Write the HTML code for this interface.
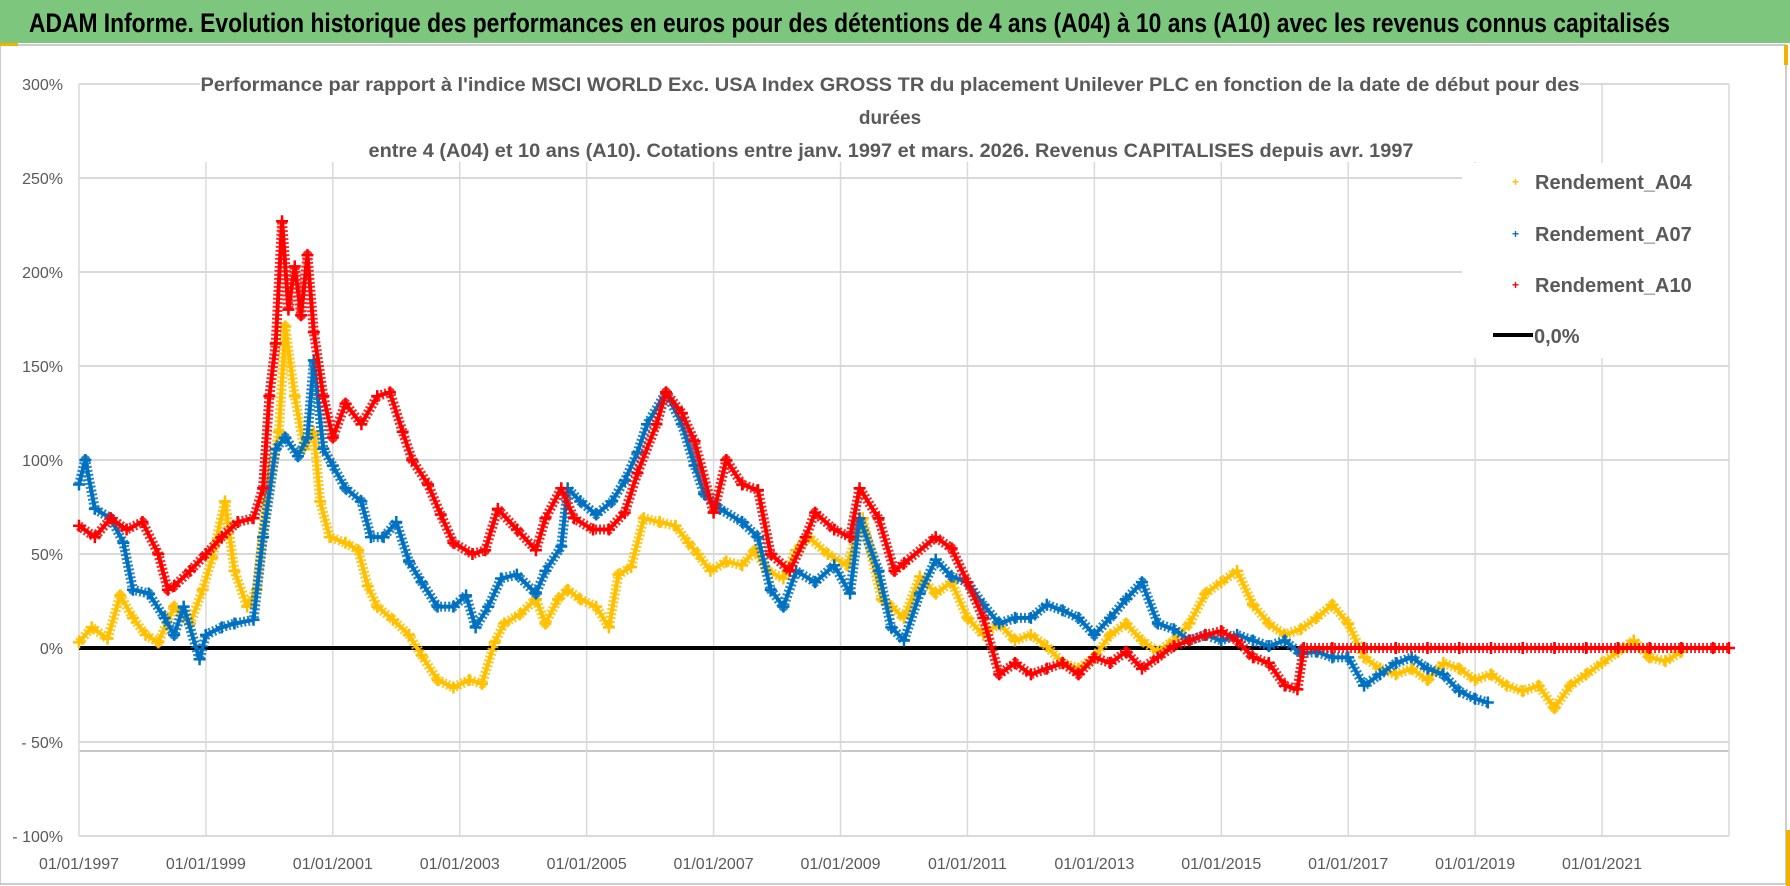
<!DOCTYPE html>
<html><head><meta charset="utf-8"><style>
html,body{margin:0;padding:0;background:#fff;}
svg{display:block;font-family:"Liberation Sans",sans-serif;}
</style></head><body>
<svg id="chart" width="1790" height="886" viewBox="0 0 1790 886">
<rect x="0" y="0" width="1790" height="886" fill="#fff"/>
<rect x="0" y="0" width="1790" height="43" fill="#7DC67D"/>
<text x="29" y="32" font-size="27" font-weight="bold" fill="#000" textLength="1641" lengthAdjust="spacingAndGlyphs">ADAM Informe. Evolution historique des performances en euros pour des détentions de 4 ans (A04) à 10 ans (A10) avec les revenus connus capitalisés</text>
<rect x="0" y="45" width="1786" height="839" fill="none" stroke="#bbb" stroke-width="1.5"/>
<rect x="0" y="43" width="18" height="3" fill="#f0b400"/>
<rect x="1784" y="45" width="4" height="20" fill="#f0b400"/>
<rect x="1786" y="830" width="4" height="56" fill="#f0b400"/>
<g id="grid"></g>
<g id="series"></g>
<rect x="200" y="68" width="1380" height="94" fill="#fff"/>
<g fill="#595959" font-weight="bold" font-size="19" text-anchor="middle">
<text x="890" y="91" textLength="1379" lengthAdjust="spacingAndGlyphs">Performance par rapport à l'indice MSCI WORLD Exc. USA Index GROSS TR  du placement Unilever PLC en fonction de la date de début pour des</text>
<text x="890" y="124">durées</text>
<text x="891" y="157" textLength="1045" lengthAdjust="spacingAndGlyphs">entre 4 (A04) et 10 ans (A10). Cotations entre janv. 1997 et mars. 2026. Revenus CAPITALISES depuis avr. 1997</text>
</g>
<g id="legend">
<rect x="1462" y="163" width="266" height="195" fill="#fff"/>
<g><text x="1512" y="186" font-size="12" fill="#FFC000" font-weight="bold">+</text><text x="1535" y="189" font-size="20" font-weight="bold" fill="#595959">Rendement_A04</text></g>
<g><text x="1512" y="238" font-size="12" fill="#0070C0" font-weight="bold">+</text><text x="1535" y="241" font-size="20" font-weight="bold" fill="#595959">Rendement_A07</text></g>
<g><text x="1512" y="289" font-size="12" fill="#FF0000" font-weight="bold">+</text><text x="1535" y="292" font-size="20" font-weight="bold" fill="#595959">Rendement_A10</text></g>
<g><line x1="1493" y1="335" x2="1533" y2="335" stroke="#000" stroke-width="4"/><text x="1534" y="343" font-size="20" font-weight="bold" fill="#595959">0,0%</text></g>
</g>
</svg>
<script>
const yTicks=[300,250,200,150,100,50,0,-50,-100];
const yTickLabels=["300%","250%","200%","150%","100%","50%","0%","- 50%","- 100%"];
const xTicks=[1997,1999,2001,2003,2005,2007,2009,2011,2013,2015,2017,2019,2021,2023];
const xTickLabels=["01/01/1997","01/01/1999","01/01/2001","01/01/2003","01/01/2005","01/01/2007","01/01/2009","01/01/2011","01/01/2013","01/01/2015","01/01/2017","01/01/2019","01/01/2021",""];

const a10Years=[1997.0,1997.25,1997.5,1997.75,1998.0,1998.25,1998.4,1998.5,1998.75,1999.0,1999.25,1999.5,1999.75,1999.9,2000.0,2000.1,2000.2,2000.3,2000.4,2000.5,2000.6,2000.7,2000.85,2001.0,2001.2,2001.45,2001.7,2001.9,2002.1,2002.25,2002.5,2002.7,2002.9,2003.2,2003.4,2003.6,2003.9,2004.2,2004.35,2004.6,2004.8,2005.1,2005.35,2005.6,2005.8,2006.1,2006.25,2006.5,2006.7,2007.0,2007.2,2007.45,2007.7,2007.9,2008.2,2008.45,2008.6,2008.9,2009.15,2009.3,2009.6,2009.85,2010.0,2010.5,2010.75,2011.0,2011.25,2011.5,2011.75,2012.0,2012.25,2012.5,2012.75,2013.0,2013.25,2013.5,2013.75,2014.0,2014.25,2014.5,2014.75,2015.0,2015.25,2015.5,2015.75,2016.0,2016.2,2016.3,2016.75,2017.25,2017.75,2018.25,2018.75,2019.25,2019.75,2020.25,2020.75,2021.25,2021.75,2022.25,2022.75,2023.0];
const a10Values=[65,59,69,63,67,50,31,33,41,50,59,67,69,85,134,162,227,180,203,177,209,168,134,112,130,119,134,136,115,100,87,71,56,50,52,74,63,52,69,85,69,63,63,72,93,119,136,125,110,72,100,87,84,50,41,59,72,63,59,85,69,41,45,59,53,35,16,-14,-8,-14,-11,-8,-14,-5,-8,-2,-11,-5,1,4,7,9,4,-5,-8,-20,-22,0,0,0,0,0,0,0,0,0,0,0,0,0,0,0];

const a07Years=[1997.0,1997.1,1997.25,1997.5,1997.7,1997.85,1998.1,1998.35,1998.5,1998.65,1998.9,1999.0,1999.25,1999.45,1999.75,1999.9,2000.1,2000.25,2000.45,2000.6,2000.7,2000.85,2001.0,2001.2,2001.45,2001.6,2001.8,2002.0,2002.2,2002.4,2002.65,2002.9,2003.1,2003.25,2003.45,2003.65,2003.9,2004.2,2004.35,2004.6,2004.7,2004.9,2005.15,2005.4,2005.6,2005.8,2005.95,2006.25,2006.5,2006.7,2006.85,2007.1,2007.45,2007.7,2007.9,2008.1,2008.3,2008.6,2008.9,2009.15,2009.3,2009.6,2009.8,2010.0,2010.25,2010.5,2010.75,2011.0,2011.25,2011.5,2011.75,2012.0,2012.25,2012.5,2012.75,2013.0,2013.25,2013.5,2013.75,2014.0,2014.25,2014.5,2014.75,2015.0,2015.25,2015.5,2015.75,2016.0,2016.25,2016.5,2016.75,2017.0,2017.25,2017.5,2017.75,2018.0,2018.25,2018.5,2018.75,2019.0,2019.2];
const a07Values=[87,100,74,69,56,31,29,16,7,22,-6,7,11,13,15,59,106,112,102,112,153,106,97,85,78,59,59,67,46,35,22,22,28,11,22,37,39,29,41,54,85,78,71,78,89,104,119,136,119,97,82,74,67,59,31,22,41,35,44,29,69,41,11,4,29,47,38,35,23,13,16,16,23,20,16,7,16,26,35,13,10,4,7,4,7,4,1,4,-3,-2,-5,-5,-20,-14,-8,-5,-11,-14,-23,-27,-29];

const a04Years=[1997.0,1997.2,1997.45,1997.65,1997.85,1998.05,1998.25,1998.5,1998.75,1998.95,1999.1,1999.3,1999.45,1999.65,1999.8,1999.95,2000.15,2000.25,2000.4,2000.55,2000.7,2000.8,2000.95,2001.2,2001.4,2001.55,2001.7,2001.95,2002.2,2002.4,2002.65,2002.9,2003.15,2003.35,2003.55,2003.7,2003.95,2004.2,2004.35,2004.55,2004.7,2004.9,2005.15,2005.35,2005.5,2005.7,2005.9,2006.15,2006.4,2006.6,2006.75,2006.95,2007.2,2007.45,2007.65,2007.85,2008.1,2008.3,2008.5,2008.8,2009.1,2009.35,2009.65,2009.8,2010.0,2010.25,2010.5,2010.75,2011.0,2011.25,2011.5,2011.75,2012.0,2012.25,2012.5,2012.75,2013.0,2013.25,2013.5,2013.75,2014.0,2014.25,2014.5,2014.75,2015.0,2015.25,2015.5,2015.75,2016.0,2016.25,2016.5,2016.75,2017.0,2017.25,2017.5,2017.75,2018.0,2018.25,2018.5,2018.75,2019.0,2019.25,2019.5,2019.75,2020.0,2020.25,2020.5,2020.75,2021.0,2021.25,2021.5,2021.75,2022.0,2022.25];
const a04Values=[3,11,5,28,16,7,3,22,13,31,48,78,41,22,31,78,115,171,134,106,115,78,59,56,52,33,22,15,7,-4,-17,-21,-17,-19,3,13,18,26,13,26,31,26,22,11,39,43,69,67,65,56,50,41,46,44,52,41,37,52,59,50,44,69,26,22,16,38,29,35,16,7,13,4,7,1,-8,-11,-5,7,13,4,-2,4,13,29,35,41,23,13,7,10,16,23,13,-5,-11,-14,-11,-17,-8,-11,-17,-14,-20,-23,-20,-32,-20,-14,-8,-2,4,-5,-7,-2];

const NS='http://www.w3.org/2000/svg';
const X0=79,PX_PER_YEAR=63.46,Y0=648,PX_PER_PCT=1.88;
function xScale(yr){return X0+(yr-1997)*PX_PER_YEAR;}
function yScale(v){return Y0-v*PX_PER_PCT;}
function mk(tag,attrs,parent){const e=document.createElementNS(NS,tag);for(const k in attrs)e.setAttribute(k,attrs[k]);parent.appendChild(e);return e;}

const grid=document.getElementById('grid');
yTicks.forEach((t,i)=>{
  const l=mk('line',{x1:X0,x2:xScale(2023),y1:yScale(t),y2:yScale(t),stroke:'#d9d9d9','stroke-width':2},grid);
  
  
  const tx=mk('text',{x:63,y:yScale(t)+6,'text-anchor':'end','font-size':16,fill:'#595959'},grid);
  tx.textContent=yTickLabels[i];
  
  
});
const extra=mk('line',{x1:X0,x2:xScale(2023),y1:751,y2:751,stroke:'#c8c8c8','stroke-width':2},grid);


xTicks.forEach((t,i)=>{
  const l=mk('line',{x1:xScale(t),x2:xScale(t),y1:yScale(300),y2:yScale(-100),stroke:'#d9d9d9','stroke-width':1.5},grid);
  
  
  if(xTickLabels[i]){
    const tx=mk('text',{x:xScale(t),y:869,'text-anchor':'middle','font-size':16,fill:'#595959'},grid);
    tx.textContent=xTickLabels[i];
    
    
  }
});
const zl=mk('line',{x1:X0,x2:xScale(2023),y1:yScale(0),y2:yScale(0),stroke:'#000','stroke-width':4},grid);



const sg=document.getElementById('series');
function drawSeries(years,vals,color,name){
  const g=mk('g',{},sg);
  
  
  const pts=years.map((y,i)=>xScale(y)+','+yScale(vals[i])).join(' ');
  const pl=mk('polyline',{points:pts,fill:'none',stroke:color,'stroke-width':10,'stroke-linejoin':'round','stroke-dasharray':'2 2','stroke-opacity':0.85},g);
  
  
  const pl2=mk('polyline',{points:pts,fill:'none',stroke:color,'stroke-width':4,'stroke-linejoin':'round'},g);
  
  
  years.forEach((y,i)=>{
    const cx=xScale(y),cy=yScale(vals[i]);
    const p=mk('path',{d:`M${cx-6},${cy}H${cx+6}M${cx},${cy-6}V${cy+6}`,stroke:color,'stroke-width':2.5},g);
    
    
  });
}
drawSeries(a04Years,a04Values,'#FFC000','series-a04');
drawSeries(a07Years,a07Values,'#0070C0','series-a07');
drawSeries(a10Years,a10Values,'#FF0000','series-a10');
</script>
</body></html>
